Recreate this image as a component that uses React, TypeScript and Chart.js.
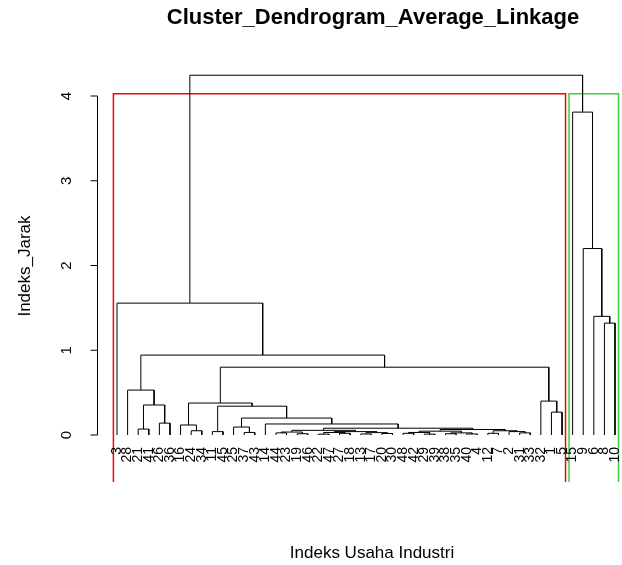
import React, { useEffect, useRef } from "react";
import { Chart, registerables } from "chart.js";

Chart.register(...registerables);

// Leaf labels in dendrogram order (left to right)
const leafLabels: string[] = [
  "3", "28", "21", "41", "26", "36", "16", "24", "34", "11",
  "45", "25", "37", "43", "14", "44", "23", "19", "46", "22",
  "47", "27", "18", "13", "17", "20", "30", "48", "42", "29",
  "39", "38", "35", "40", "4", "12", "7", "2", "31", "33",
  "32", "1", "5",
  "15", "9", "6", "8", "10",
];

// hclust-style merge table: negative = leaf position (1-based), positive = earlier merge row (1-based)
const mergeLeft: number[] = [
  -3, -5, 1, -2, -8, -7, -10, -13, -12,
  -16, -18, 10, -20, -22, 13, -24, -26, 16, 15, 12,
  -28, -30, 21, -32, -34, 24, 23, -36, -39, -38, 28, 27,
  20, -15, 9, 7, 6, -42, -41, 37, 4, -1,
  -47, -46, -45, -44, 42,
];
const mergeRight: number[] = [
  -4, -6, 2, 3, -9, 5, -11, -14, 8,
  -17, -19, 11, -21, -23, 14, -25, -27, 17, 18, 19,
  -29, -31, 22, -33, -35, 25, 26, -37, -40, 29, 30, 31,
  32, 33, 34, 35, 36, -43, 38, 39, 40, 41,
  -48, 43, 44, 45, 46,
];
const mergeHeight: number[] = [
  0.07, 0.14, 0.354, 0.53, 0.05, 0.118, 0.04, 0.03, 0.094,
  0.025, 0.015, 0.035, 0.01, 0.02, 0.03, 0.012, 0.018, 0.028, 0.04, 0.055,
  0.02, 0.01, 0.03, 0.015, 0.012, 0.025, 0.045, 0.02, 0.025, 0.04, 0.05, 0.065,
  0.08, 0.13, 0.2, 0.34, 0.377, 0.27, 0.4, 0.8, 0.943, 1.556,
  1.32, 1.4, 2.2, 3.81, 4.245,
];

const yTicks: number[] = [0, 1, 2, 3, 4];
const clusterSizes: number[] = [43, 5];
const clusterColors: string[] = ["#ff0000", "#3cd23c"];

const titleText = "Cluster_Dendrogram_Average_Linkage";
const xTitle = "Indeks Usaha Industri";
const yTitle = "Indeks_Jarak";

const X_MIN = -0.8875;
const X_MAX = 48.47;
const Y_MIN = -0.5546;
const Y_MAX = 4.4248;
const FONT = "'Liberation Sans', Arial, sans-serif";

type Pt = { x: number; y: number | null };

function buildTree() {
  const nodeX: number[] = [];
  const nodeY: number[] = [];
  const pts: Pt[] = [];
  const pos = (id: number) => (id < 0 ? { x: -id, y: 0 } : { x: nodeX[id - 1], y: nodeY[id - 1] });
  for (let i = 0; i < mergeHeight.length; i++) {
    const a = pos(mergeLeft[i]);
    const b = pos(mergeRight[i]);
    const h = mergeHeight[i];
    pts.push({ x: a.x, y: a.y }, { x: a.x, y: h }, { x: b.x, y: h }, { x: b.x, y: b.y }, { x: a.x, y: null });
    nodeX.push((a.x + b.x) / 2);
    nodeY.push(h);
  }
  return pts;
}

function buildBoxes() {
  const n = mergeHeight.length;
  const top = (mergeHeight[n - 1] + mergeHeight[n - 2]) / 2;
  const sets: Pt[][] = [];
  let start = 0;
  for (const size of clusterSizes) {
    const l = start + 0.66;
    const r = start + size + 0.33;
    sets.push([
      { x: l, y: Y_MIN },
      { x: l, y: top },
      { x: r, y: top },
      { x: r, y: Y_MIN },
    ]);
    start += size;
  }
  return sets;
}

const overlay = {
  id: "overlay",
  afterDraw(chart: any) {
    const { ctx, chartArea, scales } = chart;
    const xs = scales.x;
    const ys = scales.y;
    ctx.save();
    ctx.fillStyle = "#000";
    ctx.strokeStyle = "#000";
    ctx.lineWidth = 1;
    // y axis line & ticks
    const ax = Math.round(chartArea.left) + 0.5;
    const y0 = ys.getPixelForValue(yTicks[0]);
    const y1 = ys.getPixelForValue(yTicks[yTicks.length - 1]);
    ctx.beginPath();
    ctx.moveTo(ax, y0);
    ctx.lineTo(ax, y1);
    for (const t of yTicks) {
      const py = ys.getPixelForValue(t);
      ctx.moveTo(ax, py);
      ctx.lineTo(ax - 7, py);
    }
    ctx.stroke();
    ctx.font = `15px ${FONT}`;
    ctx.textAlign = "center";
    ctx.textBaseline = "middle";
    for (const t of yTicks) {
      const py = ys.getPixelForValue(t);
      ctx.save();
      ctx.translate(ax - 31, py);
      ctx.rotate(-Math.PI / 2);
      ctx.fillText(String(t), 0, 0);
      ctx.restore();
    }
    // leaf labels
    ctx.font = `14px ${FONT}`;
    ctx.textAlign = "right";
    ctx.textBaseline = "middle";
    leafLabels.forEach((lab, i) => {
      const px = xs.getPixelForValue(i + 1);
      ctx.save();
      ctx.translate(px, ys.getPixelForValue(0) + 12);
      ctx.rotate(-Math.PI / 2);
      ctx.fillText(lab, 0, 0);
      ctx.restore();
    });
    // titles
    ctx.textAlign = "center";
    ctx.font = `bold 22px ${FONT}`;
    ctx.fillText(titleText, 373, 18);
    ctx.font = `17px ${FONT}`;
    ctx.fillText(xTitle, 372, 553);
    ctx.save();
    ctx.translate(25, 266);
    ctx.rotate(-Math.PI / 2);
    ctx.fillText(yTitle, 0, 0);
    ctx.restore();
    ctx.restore();
  },
};

export default function App() {
  const ref = useRef<HTMLCanvasElement | null>(null);
  useEffect(() => {
    if (!ref.current) return;
    const boxes = buildBoxes();
    const datasets: any[] = [
      {
        data: buildTree(),
        borderColor: "#000",
        borderWidth: 1,
        pointRadius: 0,
        spanGaps: false,
        tension: 0,
      },
      ...boxes.map((b, i) => ({
        data: b,
        borderColor: clusterColors[i],
        borderWidth: 1.5,
        pointRadius: 0,
        tension: 0,
      })),
    ];
    const chart = new Chart(ref.current, {
      type: "line",
      data: { datasets },
      options: {
        animation: false,
        responsive: false,
        maintainAspectRatio: false,
        parsing: false as any,
        layout: { padding: { left: 97, right: 2, top: 60, bottom: 83 } },
        plugins: { legend: { display: false }, tooltip: { enabled: false }, title: { display: false } },
        scales: {
          x: { type: "linear", min: X_MIN, max: X_MAX, display: false },
          y: { type: "linear", min: Y_MIN, max: Y_MAX, display: false },
        },
        elements: { line: { borderCapStyle: "butt" } },
      },
      plugins: [overlay],
    });
    return () => chart.destroy();
  }, []);
  return (
    <div style={{ position: "fixed", left: 0, top: 0, width: 622, height: 565, background: "#fff" }}>
      <canvas ref={ref} width={622} height={565} style={{ display: "block" }} />
    </div>
  );
}
